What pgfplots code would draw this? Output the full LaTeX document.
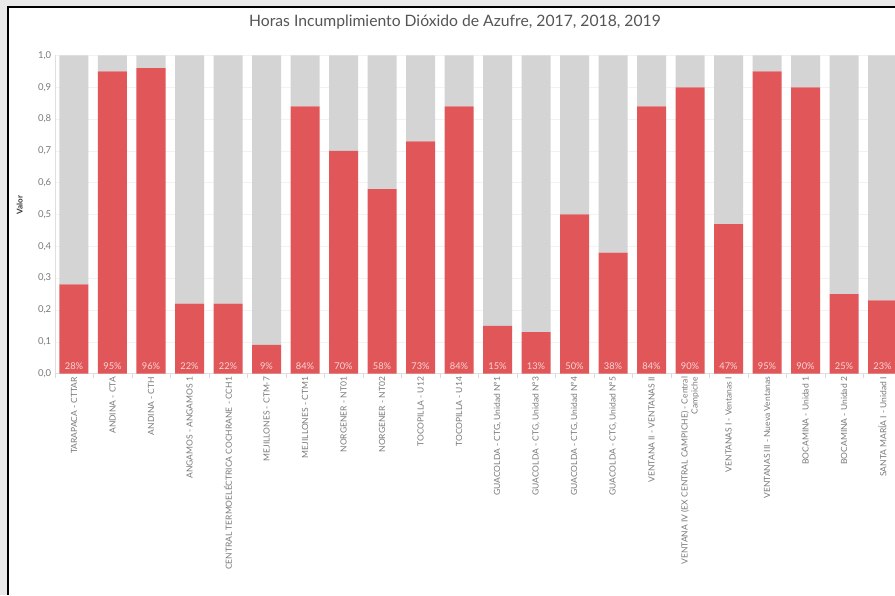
\documentclass[border=0pt]{standalone}
\usepackage{pgfplots}
\pgfplotsset{compat=1.18}
\usepackage{pgfplotstable}
\usepackage{fontspec}
\setmainfont{Lato}
\definecolor{tabred}{RGB}{225,87,89}
\definecolor{tabgrey}{RGB}{212,212,212}
\definecolor{lblpink}{RGB}{248,214,214}
\definecolor{txtgrey}{RGB}{122,122,122}
\definecolor{titlegrey}{RGB}{85,85,85}
\definecolor{framebg}{RGB}{234,234,234}

% red = share of hours out of compliance, grey = remainder
\pgfplotstableread{
x r g lab
0 0.28 0.72 28
1 0.95 0.05 95
2 0.96 0.04 96
3 0.22 0.78 22
4 0.22 0.78 22
5 0.09 0.91 9
6 0.84 0.16 84
7 0.70 0.30 70
8 0.58 0.42 58
9 0.73 0.27 73
10 0.84 0.16 84
11 0.15 0.85 15
12 0.13 0.87 13
13 0.50 0.50 50
14 0.38 0.62 38
15 0.84 0.16 84
16 0.90 0.10 90
17 0.47 0.53 47
18 0.95 0.05 95
19 0.90 0.10 90
20 0.25 0.75 25
21 0.23 0.77 23
}\datatable

\begin{document}
\begin{tikzpicture}
\useasboundingbox (0,0) rectangle (895pt,595pt);
\clip (0,0) rectangle (895pt,595pt);
\fill[framebg] (0,0) rectangle (895pt,595pt);
\fill[white] (7.5pt,0) rectangle (895pt,587.5pt);
\draw[black, line width=2pt] (7.5pt,0) -- (7.5pt,587.5pt) -- (895pt,587.5pt);
\node[font=\fontsize{15.7}{18}\selectfont, text=titlegrey] at (455pt,573pt)
  {Horas Incumplimiento Dióxido de Azufre, 2017, 2018, 2019};
\begin{axis}[
    at={(54.75pt,221.5pt)}, anchor=south west,
    scale only axis, width=866.25pt, height=318pt,
    ybar stacked, bar width=29pt,
    xmin=-0.5, xmax=22, ymin=0, ymax=1,
    axis x line*=bottom, axis y line*=left,
    axis line style={-, draw=gray!25},
    ymajorgrids, grid style={draw=gray!10},
    ytick={0,0.1,...,1.0},
    ytick style={draw=none},
    xtick={0,...,21},
    major tick length=0pt,
    minor xtick={-0.5,0.5,...,21.5},
    minor tick length=4pt, tick align=outside,
    minor tick style={draw=gray!30},
    /pgf/number format/.cd, use comma, fixed, fixed zerofill, precision=1,
    assume math mode=true,
    /pgfplots/.cd,
    yticklabel style={font=\fontsize{9.5}{11}\selectfont, text=txtgrey},
    xticklabel style={rotate=90, anchor=east, align=right,
        font=\fontsize{8.5}{10}\selectfont, text=txtgrey},
    xticklabels={
        TARAPACA - CTTAR,
        ANDINA - CTA,
        ANDINA - CTH,
        ANGAMOS - ANGAMOS 1,
        CENTRAL TERMOELÉCTRICA COCHRANE - CCH1,
        MEJILLONES - CTM-7,
        MEJILLONES - CTM1,
        NORGENER - NT01,
        NORGENER - NT02,
        TOCOPILLA - U12,
        TOCOPILLA - U14,
        {GUACOLDA - CTG, Unidad Nº1},
        {GUACOLDA - CTG, Unidad Nº3},
        {GUACOLDA - CTG, Unidad Nº4},
        {GUACOLDA - CTG, Unidad Nº5},
        VENTANA II - VENTANAS II,
        {VENTANA IV (EX CENTRAL CAMPICHE) - Central\\Campiche},
        VENTANAS I - Ventanas I,
        VENTANAS III - Nueva Ventanas,
        BOCAMINA - Unidad 1,
        BOCAMINA - Unidad 2,
        SANTA MARÍA I - Unidad I
    },
    ylabel={Valor},
    ylabel style={at={(axis description cs:-0.0404,0.53)}, anchor=center,
        font=\bfseries\fontsize{8}{10}\selectfont, text=black!80},
]
% stacked labels sit at the middle of the segment: move them to the base
\addplot[fill=tabred, draw=none,
    point meta=explicit symbolic,
    visualization depends on=rawy \as \rawy,
    nodes near coords={\pgfplotspointmeta\%},
    every node near coord/.append style={anchor=south,
        yshift={(-159*\rawy+0.2)*1pt},
        font=\fontsize{9.3}{11}\selectfont, text=lblpink}]
    table[x=x, y=r, meta=lab] {\datatable};
\addplot[fill=tabgrey, draw=none] table[x=x, y=g] {\datatable};
\end{axis}
\end{tikzpicture}
\end{document}
